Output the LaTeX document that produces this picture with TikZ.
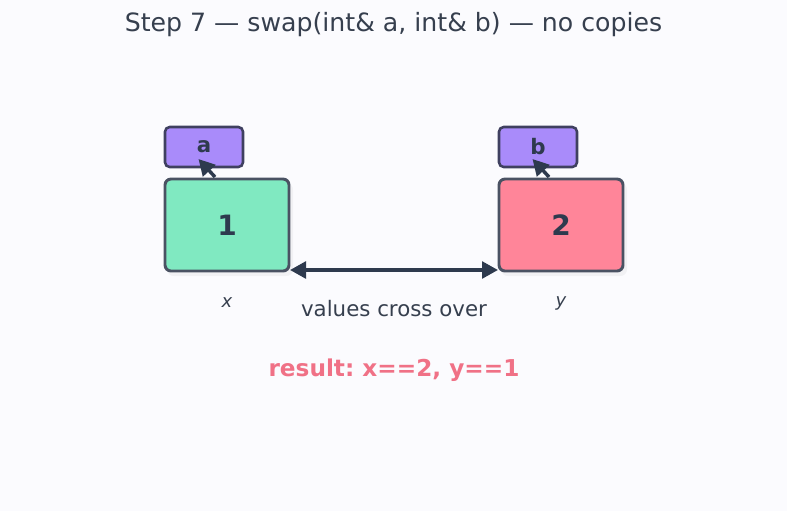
\documentclass[tikz,border=0pt]{standalone}
\usepackage{fontspec}
\setmainfont{DejaVu Sans}
\usetikzlibrary{arrows.meta}
\definecolor{bg}{HTML}{FBFBFE}
\definecolor{ink}{HTML}{2E3A4E}
\definecolor{txt}{HTML}{363F4E}
\definecolor{boxedge}{HTML}{4A5263}
\definecolor{mint}{HTML}{80E9C1}
\definecolor{rose}{HTML}{FF8599}
\definecolor{lilac}{HTML}{A98BFA}
\definecolor{lilacedge}{HTML}{3F4060}
\definecolor{respink}{HTML}{F07186}
\tikzset{
  valbox/.style={draw=boxedge, line width=2.2pt, rounded corners=4.5pt, minimum width=93pt, minimum height=69pt, inner sep=0pt, text=ink, font=\fontsize{21}{24}\selectfont\bfseries},
  namebox/.style={draw=lilacedge, fill=lilac, line width=1.9pt, rounded corners=3.5pt, minimum width=58.5pt, minimum height=30pt, inner sep=0pt, text=ink, font=\fontsize{16}{18}\selectfont\bfseries},
  refarrow/.style={draw=ink, line width=2.6pt, -{Triangle[length=12pt,width=12.5pt]}},
  swaparrow/.style={draw=ink, line width=2.7pt, {Triangle[length=12pt,width=12.5pt]}-{Triangle[length=12pt,width=12.5pt]}},
  shadow/.style={fill=black, opacity=0.04, rounded corners=5pt}
}
\begin{document}
\frenchspacing
\begin{tikzpicture}[x=0.75pt,y=-0.75pt]
\fill[bg] (0,0) rectangle (787,511);
\useasboundingbox (0,0) rectangle (787,511);
\node[text=txt, font=\fontsize{18.9}{22}\selectfont] (title) at (393.5,25) {Step 7 — swap(int\& a, int\& b) — no copies};
% shadows
\fill[shadow] (167,183) rectangle (293,276);
\fill[shadow] (501,183) rectangle (627,276);
\node[valbox, fill=mint] (x) at (227,225) {1};
\node[valbox, fill=rose] (y) at (561,225) {2};
\node[namebox] (a) at (204,147) {a};
\node[namebox] (b) at (538,147) {b};
\coordinate (xa) at (215,177);
\coordinate (yb) at (549,177);
\coordinate (at) at (198.5,159);
\coordinate (bt) at (532.5,159);
\draw[refarrow] (xa) -- (at);
\draw[refarrow] (yb) -- (bt);
\coordinate (l) at (290,270);
\coordinate (r) at (498,270);
\draw[swaparrow] (l) -- (r);
\node[text=txt, font=\fontsize{13.5}{16}\selectfont\itshape] (xl) at (227,303) {x};
\node[text=txt, font=\fontsize{13.5}{16}\selectfont\itshape] (yl) at (561,303) {y};
\node[text=txt, font=\fontsize{16}{19}\selectfont] (cross) at (394,309) {values cross over};
\node[text=respink, font=\fontsize{17.4}{20}\selectfont\bfseries] (res) at (394,370) {result: x==2, y==1};
\end{tikzpicture}
\end{document}
